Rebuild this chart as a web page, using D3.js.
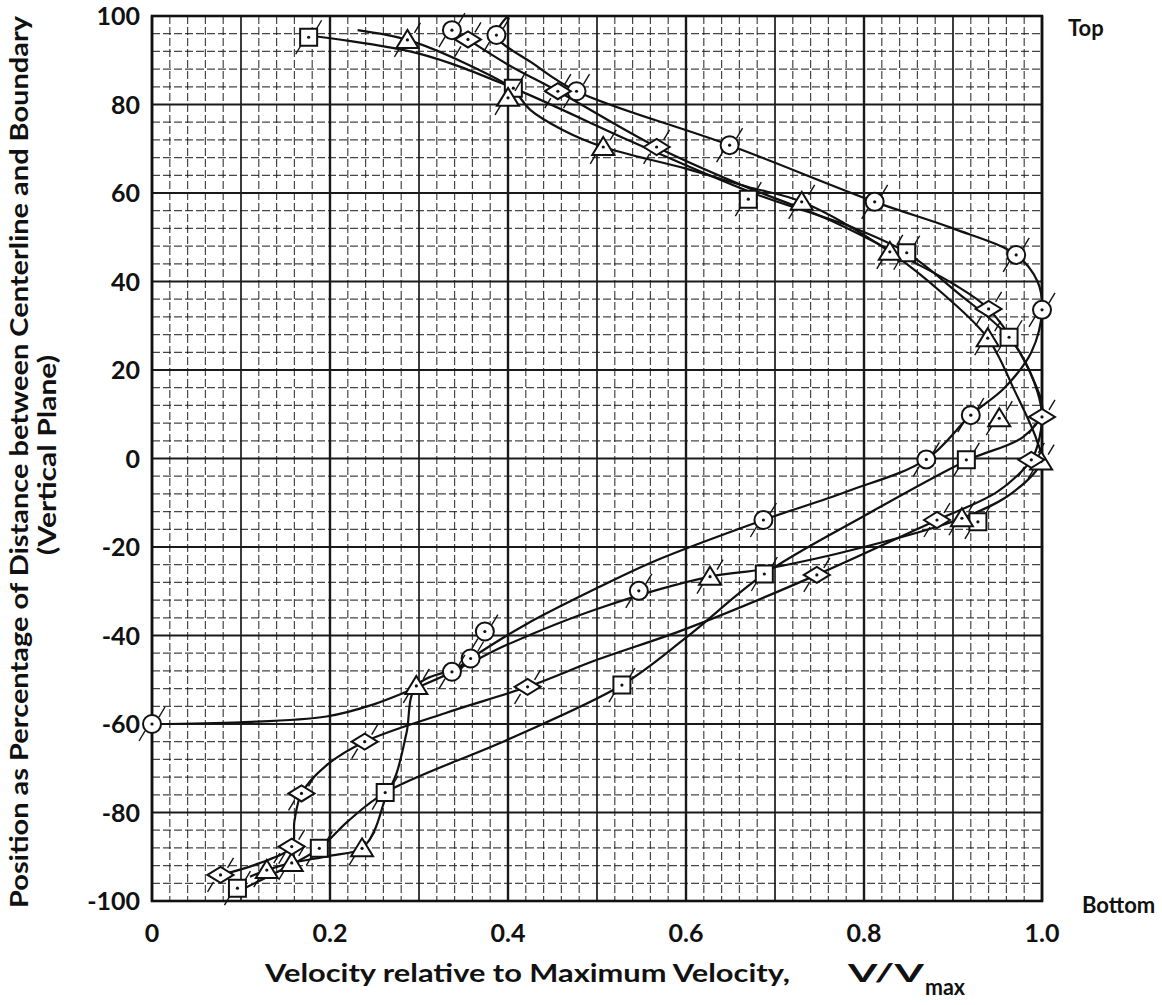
<!DOCTYPE html>
<html lang="en">
<head>
<meta charset="UTF-8">
<script src="https://d3js.org/d3.v7.min.js"></script>
<title>Velocity profiles</title>
<style>
  body { margin: 0; background: #fff; }
  text { font-family: Lato, "Open Sans", sans-serif; fill: #111; }
</style>
</head>
<body>
<div id="chart"></div>
<script>
// ---- values ----
var xTicks = [0, 0.2, 0.4, 0.6, 0.8, 1.0];
var xTickLabels = ["0", "0.2", "0.4", "0.6", "0.8", "1.0"];
var yTicks = [100, 80, 60, 40, 20, 0, -20, -40, -60, -80, -100];

// circle profile
var circleMarks = [[0.337, 96.8], [0.387, 95.7], [0.477, 83.0], [0.649, 70.8], [0.812, 58.0], [0.971, 46.0],
  [1.0, 33.6], [0.920, 9.8], [0.870, -0.2], [0.687, -13.9], [0.547, -29.9], [0.374, -39.1],
  [0.358, -45.2], [0.337, -48.2], [0.0, -60.0]];
var circleCurve = [[0.400, 100], [0.387, 95.7], [0.430, 89.0], [0.477, 83.0], [0.649, 70.8], [0.812, 58.0],
  [0.900, 52.0], [0.971, 46.0], [0.995, 40.0], [1.0, 33.6], [0.988, 24.0], [0.958, 16.0], [0.920, 9.8],
  [0.870, -0.2], [0.780, -7.5], [0.687, -13.9], [0.567, -23.0], [0.503, -29.0], [0.420, -37.5],
  [0.358, -45.2], [0.337, -48.2], [0.297, -51.8], [0.250, -55.5], [0.196, -58.3], [0.100, -59.6], [0.0, -60.0]];

// square profile
var squareMarks = [[0.176, 95.2], [0.406, 83.7], [0.670, 58.6], [0.848, 46.5], [0.963, 27.4], [0.915, -0.3],
  [0.928, -14.3], [0.688, -26.1], [0.528, -51.2], [0.262, -75.5], [0.188, -88.1], [0.096, -97.1]];
var squareCurve = [[0.176, 95.6], [0.300, 91.5], [0.406, 83.7], [0.540, 71.5], [0.675, 60.0], [0.790, 52.0],
  [0.848, 46.5], [0.905, 37.5], [0.963, 27.4], [0.990, 18.0], [1.0, 10.5], [0.979, 4.9], [0.915, -0.5],
  [0.800, -13.0], [0.688, -26.1], [0.600, -40.5], [0.528, -51.2], [0.400, -63.5], [0.262, -75.5],
  [0.220, -82.0], [0.188, -88.1], [0.140, -93.5], [0.105, -97.0]];

// triangle profile
var triangleMarks = [[0.287, 94.6], [0.400, 81.5], [0.507, 70.4], [0.730, 58.0], [0.829, 46.7], [0.939, 27.2],
  [0.952, 9.1], [0.999, -0.7], [0.910, -13.5], [0.627, -26.7], [0.297, -51.4], [0.236, -88.1],
  [0.157, -91.4], [0.129, -93.0]];
var triangleCurve = [[0.231, 96.8], [0.287, 94.6], [0.350, 89.5], [0.406, 83.5], [0.413, 81.7], [0.425, 78.8],
  [0.462, 74.2], [0.507, 70.4], [0.600, 65.5], [0.669, 61.4], [0.730, 58.0], [0.829, 46.7], [0.890, 37.0],
  [0.939, 27.2], [0.970, 15.0], [0.994, 4.2], [0.999, -0.7], [0.965, -8.0], [0.910, -13.5], [0.800, -20.0],
  [0.688, -25.0], [0.627, -26.7], [0.500, -34.0], [0.400, -42.0], [0.349, -47.0], [0.297, -51.4],
  [0.286, -62.0], [0.275, -71.0], [0.262, -77.0], [0.250, -84.0], [0.236, -88.1], [0.200, -89.8],
  [0.157, -91.4], [0.129, -93.0], [0.110, -94.5]];

// diamond profile
var diamondMarks = [[0.355, 94.7], [0.456, 83.0], [0.567, 70.4], [0.940, 33.8], [1.0, 9.4], [0.988, -0.3],
  [0.882, -13.9], [0.747, -26.3], [0.422, -51.6], [0.239, -64.0], [0.168, -75.7], [0.157, -87.7], [0.077, -94.1]];
var diamondCurve = [[0.355, 94.7], [0.400, 89.0], [0.456, 83.0], [0.567, 70.4], [0.660, 62.0], [0.760, 54.0],
  [0.840, 46.0], [0.900, 39.5], [0.940, 33.8], [0.975, 24.0], [0.995, 15.0], [1.0, 9.4], [0.995, 3.0],
  [0.988, -0.3], [0.950, -7.5], [0.882, -13.9], [0.747, -26.3], [0.600, -38.5], [0.500, -45.5],
  [0.422, -51.6], [0.330, -57.5], [0.239, -64.0], [0.195, -69.5], [0.168, -75.7], [0.160, -82.0],
  [0.157, -87.7], [0.120, -91.5], [0.077, -94.1]];

var series = [
  { shape: "circle", curve: circleCurve, marks: circleMarks },
  { shape: "square", curve: squareCurve, marks: squareMarks },
  { shape: "triangle", curve: triangleCurve, marks: triangleMarks },
  { shape: "diamond", curve: diamondCurve, marks: diamondMarks }
];

// ---- svg ----
var width = 1162, height = 1005;
var plotLeft = 152, plotRight = 1042, plotTop = 16, plotBottom = 901;

var svg = d3.select("#chart").append("svg")
  .attr("width", width).attr("height", height);

var x = d3.scaleLinear().domain([0, 1]).range([plotLeft, plotRight]);
var y = d3.scaleLinear().domain([-100, 100]).range([plotBottom, plotTop]);

// graph paper grid
var grid = svg.append("g");
var xMinor = d3.range(0, 50.5, 1).map(function (i) { return i / 50; });
var yMinor = d3.range(-100, 100.5, 4);

grid.selectAll(".vx").data(xMinor).join("line")
  .attr("x1", d => x(d)).attr("x2", d => x(d))
  .attr("y1", plotTop).attr("y2", plotBottom)
  .attr("stroke", "#1a1a1a")
  .attr("stroke-width", function (d, i) { return i % 10 == 0 ? 2.4 : (i % 5 == 0 ? 1.7 : 1.2); })
  .attr("stroke-dasharray", function (d, i) { return i % 5 == 0 ? null : "8,3"; })
  .attr("opacity", function (d, i) { return i % 5 == 0 ? 1 : 0.8; });

grid.selectAll(".hy").data(yMinor).join("line")
  .attr("x1", plotLeft).attr("x2", plotRight)
  .attr("y1", d => y(d)).attr("y2", d => y(d))
  .attr("stroke", "#1a1a1a")
  .attr("stroke-width", function (d) { return d % 20 == 0 ? 2.2 : 1.2; })
  .attr("stroke-dasharray", function (d) { return d % 20 == 0 ? null : "8,3"; })
  .attr("opacity", function (d) { return d % 20 == 0 ? 1 : 0.8; });

svg.append("rect")
  .attr("x", plotLeft).attr("y", plotTop)
  .attr("width", plotRight - plotLeft).attr("height", plotBottom - plotTop)
  .attr("fill", "none").attr("stroke", "#111").attr("stroke-width", 2.6);

// axes labels
svg.append("g").selectAll("text").data(yTicks).join("text")
  .attr("x", plotLeft - 12).attr("y", d => y(d))
  .attr("dy", "0.36em")
  .attr("text-anchor", "end")
  .attr("font-size", "25px").attr("font-weight", "bold")
  .text(d => d);

svg.append("g").selectAll("text").data(xTicks).join("text")
  .attr("x", d => x(d)).attr("y", 942)
  .attr("text-anchor", "middle")
  .attr("font-size", "25px").attr("font-weight", "bold")
  .text(function (d, i) { return xTickLabels[i]; });

svg.append("text")
  .attr("x", 265).attr("y", 982)
  .attr("font-size", "25px").attr("font-weight", "bold")
  .attr("textLength", 525).attr("lengthAdjust", "spacingAndGlyphs")
  .text("Velocity relative to Maximum Velocity,");
svg.append("text")
  .attr("x", 848).attr("y", 982)
  .attr("font-size", "25px").attr("font-weight", "bold")
  .attr("textLength", 76).attr("lengthAdjust", "spacingAndGlyphs")
  .text("V/V");
svg.append("text")
  .attr("x", 925).attr("y", 995)
  .attr("font-size", "23px").attr("font-weight", "bold")
  .attr("textLength", 40).attr("lengthAdjust", "spacingAndGlyphs")
  .text("max");

svg.append("text")
  .attr("transform", "translate(28,462) rotate(-90)")
  .attr("text-anchor", "middle")
  .attr("font-size", "25px").attr("font-weight", "bold")
  .attr("textLength", 892).attr("lengthAdjust", "spacingAndGlyphs")
  .text("Position as Percentage of Distance between Centerline and Boundary");

svg.append("text")
  .attr("transform", "translate(56,455) rotate(-90)")
  .attr("text-anchor", "middle")
  .attr("font-size", "25px").attr("font-weight", "bold")
  .attr("textLength", 200).attr("lengthAdjust", "spacingAndGlyphs")
  .text("(Vertical Plane)");

svg.append("text").attr("x", 1068).attr("y", 36)
  .attr("font-size", "22px").attr("font-weight", "bold").text("Top");
svg.append("text").attr("x", 1082).attr("y", 913)
  .attr("font-size", "22px").attr("font-weight", "bold").text("Bottom");

// profile curves
var line = d3.line()
  .x(d => x(d[0])).y(d => y(d[1]))
  .curve(d3.curveCatmullRom.alpha(0.5));

svg.append("g").selectAll("path").data(series).join("path")
  .attr("d", d => line(d.curve))
  .attr("fill", "none").attr("stroke", "#111").attr("stroke-width", 2.2);

// markers
var shapes = {
  square: "M-8.5,-8.5H8.5V8.5H-8.5Z",
  triangle: "M0,-10L11,8H-11Z",
  diamond: "M-13,0L0,-8L13,0L0,8Z"
};

series.forEach(function (s) {
  var g = svg.append("g").selectAll("g").data(s.marks).join("g")
    .attr("transform", d => "translate(" + x(d[0]) + "," + y(d[1]) + ")");
  g.append("line").attr("x1", 7).attr("y1", -7).attr("x2", 13).attr("y2", -17)
    .attr("stroke", "#111").attr("stroke-width", 1.4);
  g.append("line").attr("x1", -7).attr("y1", 7).attr("x2", -13).attr("y2", 17)
    .attr("stroke", "#111").attr("stroke-width", 1.4);
  if (s.shape == "circle") {
    g.append("circle").attr("r", 9);
  } else {
    g.append("path").attr("d", shapes[s.shape]);
  }
  g.selectAll("circle,path").attr("fill", "#fff").attr("stroke", "#111").attr("stroke-width", 2);
  g.append("circle").attr("r", 1.6).attr("fill", "#111");
});
</script>
</body>
</html>
